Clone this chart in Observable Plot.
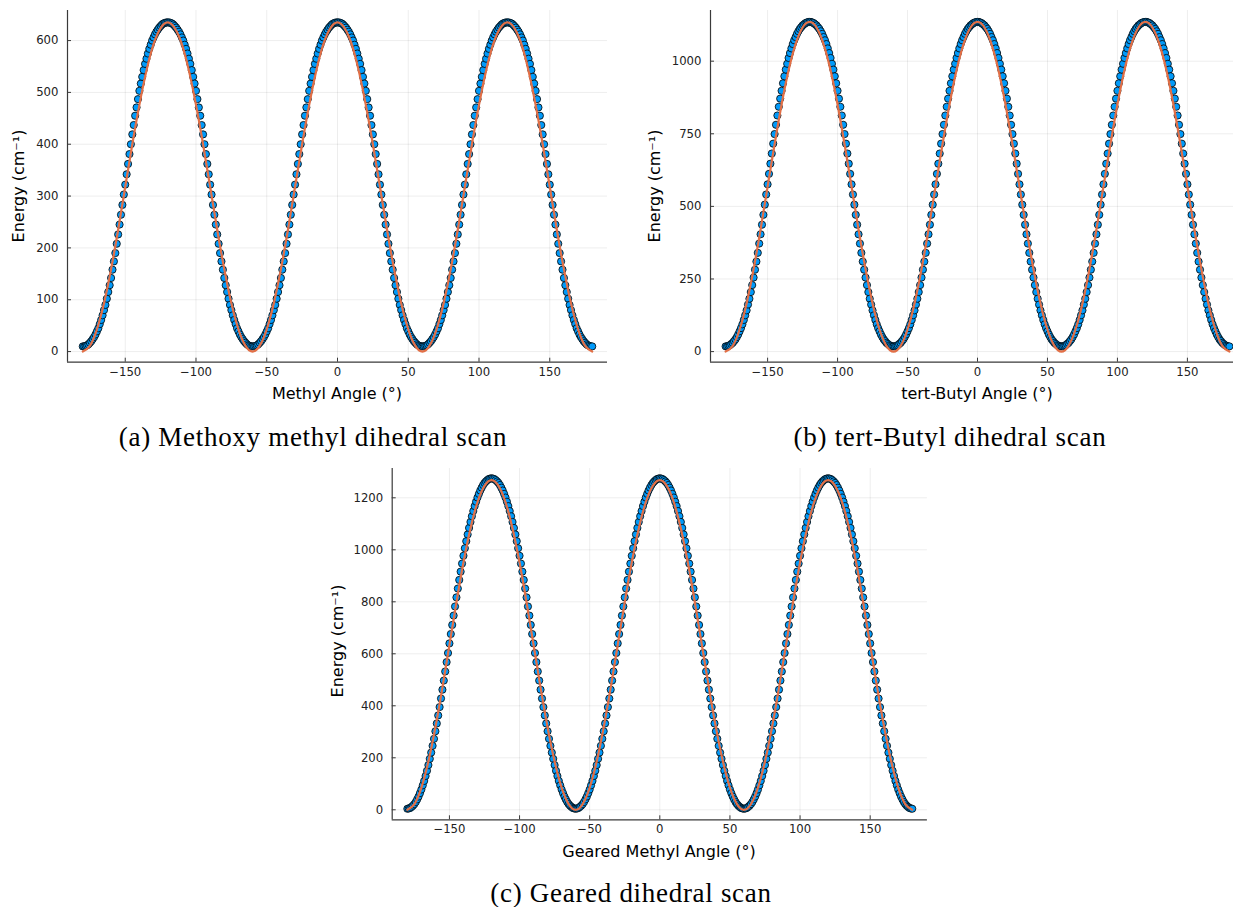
<!DOCTYPE html>
<html><head><meta charset="utf-8">
<script src="https://cdn.jsdelivr.net/npm/d3@7"></script>
<script src="https://cdn.jsdelivr.net/npm/@observablehq/plot@0.6"></script>
<style>
html,body{margin:0;padding:0;background:#fff;}
#fig{position:relative;width:1233px;height:907px;overflow:hidden;background:#fff;}
.panel{position:absolute;}
.lbl{position:absolute;font-family:"DejaVu Sans",sans-serif;font-size:16px;color:#000;white-space:nowrap;transform:translate(-50%,-50%);}
.ylbl{transform:translate(-50%,-50%) rotate(-90deg);}
.cap{position:absolute;font-family:"Liberation Serif",serif;font-size:27px;letter-spacing:0.7px;white-space:nowrap;transform:translate(-50%,-50%);color:#000;}
</style></head><body><div id="fig"></div>
<script>
// ---- Scan angles (degrees), one point per degree ----
const angles = [
-180,-179,-178,-177,-176,-175,-174,-173,-172,-171,
-170,-169,-168,-167,-166,-165,-164,-163,-162,-161,
-160,-159,-158,-157,-156,-155,-154,-153,-152,-151,
-150,-149,-148,-147,-146,-145,-144,-143,-142,-141,
-140,-139,-138,-137,-136,-135,-134,-133,-132,-131,
-130,-129,-128,-127,-126,-125,-124,-123,-122,-121,
-120,-119,-118,-117,-116,-115,-114,-113,-112,-111,
-110,-109,-108,-107,-106,-105,-104,-103,-102,-101,
-100,-99,-98,-97,-96,-95,-94,-93,-92,-91,
-90,-89,-88,-87,-86,-85,-84,-83,-82,-81,
-80,-79,-78,-77,-76,-75,-74,-73,-72,-71,
-70,-69,-68,-67,-66,-65,-64,-63,-62,-61,
-60,-59,-58,-57,-56,-55,-54,-53,-52,-51,
-50,-49,-48,-47,-46,-45,-44,-43,-42,-41,
-40,-39,-38,-37,-36,-35,-34,-33,-32,-31,
-30,-29,-28,-27,-26,-25,-24,-23,-22,-21,
-20,-19,-18,-17,-16,-15,-14,-13,-12,-11,
-10,-9,-8,-7,-6,-5,-4,-3,-2,-1,
0,1,2,3,4,5,6,7,8,9,
10,11,12,13,14,15,16,17,18,19,
20,21,22,23,24,25,26,27,28,29,
30,31,32,33,34,35,36,37,38,39,
40,41,42,43,44,45,46,47,48,49,
50,51,52,53,54,55,56,57,58,59,
60,61,62,63,64,65,66,67,68,69,
70,71,72,73,74,75,76,77,78,79,
80,81,82,83,84,85,86,87,88,89,
90,91,92,93,94,95,96,97,98,99,
100,101,102,103,104,105,106,107,108,109,
110,111,112,113,114,115,116,117,118,119,
120,121,122,123,124,125,126,127,128,129,
130,131,132,133,134,135,136,137,138,139,
140,141,142,143,144,145,146,147,148,149,
150,151,152,153,154,155,156,157,158,159,
160,161,162,163,164,165,166,167,168,169,
170,171,172,173,174,175,176,177,178,179,
180];

// ---- (a) Methoxy methyl scan energies (cm^-1) ----
const energyMethyl = [
10,10,11,12,14,17,20,24,28,33,39,45,53,61,70,80,90,102,115,128,142,158,174,190,208,226,245,264,283,303,322,342,362,381,400,419,437,455,471,487,503,517,530,543,555,565,575,584,592,600,606,612,617,621,625,628,631,633,634,635,635,
635,634,633,631,628,625,621,617,612,606,600,592,584,575,565,555,543,530,517,503,487,471,455,437,419,400,381,362,342,322,303,283,264,245,226,208,190,174,158,142,128,115,102,90,80,70,61,53,45,39,33,28,24,20,17,14,12,11,10,10,
10,11,12,14,17,20,24,28,33,39,45,53,61,70,80,90,102,115,128,142,158,174,190,208,226,245,264,283,303,322,342,362,381,400,419,437,455,471,487,503,517,530,543,555,565,575,584,592,600,606,612,617,621,625,628,631,633,634,635,635,
635,634,633,631,628,625,621,617,612,606,600,592,584,575,565,555,543,530,517,503,487,471,455,437,419,400,381,362,342,322,303,283,264,245,226,208,190,174,158,142,128,115,102,90,80,70,61,53,45,39,33,28,24,20,17,14,12,11,10,10,
10,11,12,14,17,20,24,28,33,39,45,53,61,70,80,90,102,115,128,142,158,174,190,208,226,245,264,283,303,322,342,362,381,400,419,437,455,471,487,503,517,530,543,555,565,575,584,592,600,606,612,617,621,625,628,631,633,634,635,635,
635,634,633,631,628,625,621,617,612,606,600,592,584,575,565,555,543,530,517,503,487,471,455,437,419,400,381,362,342,322,303,283,264,245,226,208,190,174,158,142,128,115,102,90,80,70,61,53,45,39,33,28,24,20,17,14,12,11,10,10];

// ---- (b) tert-Butyl scan energies (cm^-1) ----
const energyTBu = [
18,18,20,22,26,30,36,42,50,59,70,81,94,109,125,142,162,182,205,229,255,282,310,340,372,404,437,471,506,541,576,612,647,682,716,749,781,813,843,871,898,924,948,971,991,1011,1028,1044,1059,1072,1083,1094,1103,1111,1117,1123,1127,1131,1133,1135,1135,
1135,1133,1131,1127,1123,1117,1111,1103,1094,1083,1072,1059,1044,1028,1011,991,971,948,924,898,871,843,813,781,749,716,682,647,612,576,541,506,471,437,404,372,340,310,282,255,229,205,182,162,142,125,109,94,81,70,59,50,42,36,30,26,22,20,18,18,
18,20,22,26,30,36,42,50,59,70,81,94,109,125,142,162,182,205,229,255,282,310,340,372,404,437,471,506,541,576,612,647,682,716,749,781,813,843,871,898,924,948,971,991,1011,1028,1044,1059,1072,1083,1094,1103,1111,1117,1123,1127,1131,1133,1135,1135,
1135,1133,1131,1127,1123,1117,1111,1103,1094,1083,1072,1059,1044,1028,1011,991,971,948,924,898,871,843,813,781,749,716,682,647,612,576,541,506,471,437,404,372,340,310,282,255,229,205,182,162,142,125,109,94,81,70,59,50,42,36,30,26,22,20,18,18,
18,20,22,26,30,36,42,50,59,70,81,94,109,125,142,162,182,205,229,255,282,310,340,372,404,437,471,506,541,576,612,647,682,716,749,781,813,843,871,898,924,948,971,991,1011,1028,1044,1059,1072,1083,1094,1103,1111,1117,1123,1127,1131,1133,1135,1135,
1135,1133,1131,1127,1123,1117,1111,1103,1094,1083,1072,1059,1044,1028,1011,991,971,948,924,898,871,843,813,781,749,716,682,647,612,576,541,506,471,437,404,372,340,310,282,255,229,205,182,162,142,125,109,94,81,70,59,50,42,36,30,26,22,20,18,18];

// ---- (c) Geared methyl scan energies (cm^-1) ----
const energyGeared = [
4,5,7,11,16,22,30,40,51,64,78,94,111,130,150,172,196,220,246,273,302,332,363,395,428,462,497,532,568,603,640,676,711,747,782,817,851,884,916,947,977,1006,1033,1059,1084,1107,1129,1149,1168,1185,1201,1215,1228,1239,1249,1257,1263,1268,1272,1274,1275,
1274,1272,1268,1263,1257,1249,1239,1228,1215,1201,1185,1168,1149,1129,1107,1084,1059,1033,1006,977,947,916,884,851,817,782,747,711,676,640,603,568,532,497,462,428,395,363,332,302,273,246,220,196,172,150,130,111,94,78,64,51,40,30,22,16,11,7,5,4,
5,7,11,16,22,30,40,51,64,78,94,111,130,150,172,196,220,246,273,302,332,363,395,428,462,497,532,568,603,640,676,711,747,782,817,851,884,916,947,977,1006,1033,1059,1084,1107,1129,1149,1168,1185,1201,1215,1228,1239,1249,1257,1263,1268,1272,1274,1275,
1274,1272,1268,1263,1257,1249,1239,1228,1215,1201,1185,1168,1149,1129,1107,1084,1059,1033,1006,977,947,916,884,851,817,782,747,711,676,640,603,568,532,497,462,428,395,363,332,302,273,246,220,196,172,150,130,111,94,78,64,51,40,30,22,16,11,7,5,4,
5,7,11,16,22,30,40,51,64,78,94,111,130,150,172,196,220,246,273,302,332,363,395,428,462,497,532,568,603,640,676,711,747,782,817,851,884,916,947,977,1006,1033,1059,1084,1107,1129,1149,1168,1185,1201,1215,1228,1239,1249,1257,1263,1268,1272,1274,1275,
1274,1272,1268,1263,1257,1249,1239,1228,1215,1201,1185,1168,1149,1129,1107,1084,1059,1033,1006,977,947,916,884,851,817,782,747,711,676,640,603,568,532,497,462,428,395,363,332,302,273,246,220,196,172,150,130,111,94,78,64,51,40,30,22,16,11,7,5,4];

// ---- Fitted curves, sampled every 5 degrees ----
const fitAngles = [-180,-175,-170,-165,-160,-155,-150,-145,-140,-135,-130,-125,-120,-115,-110,-105,-100,-95,-90,-85,-80,-75,-70,-65,-60,-55,-50,-45,-40,-35,-30,-25,-20,-15,-10,-5,0,5,10,15,20,25,30,35,40,45,50,55,60,65,70,75,80,85,90,95,100,105,110,115,120,125,130,135,140,145,150,155,160,165,170,175,180];
const fitMethyl = [0,11,43,93,159,235,318,400,476,542,593,624,635,624,593,542,476,400,318,235,159,93,43,11,0,11,43,93,159,235,318,400,476,542,593,624,635,624,593,542,476,400,318,235,159,93,43,11,0,11,43,93,159,235,318,400,476,542,593,624,635,624,593,542,476,400,318,235,159,93,43,11,0];
const fitTBu = [0,19,76,166,284,421,568,714,851,969,1059,1116,1135,1116,1059,969,851,714,568,421,284,166,76,19,0,19,76,166,284,421,568,714,851,969,1059,1116,1135,1116,1059,969,851,714,568,421,284,166,76,19,0,19,76,166,284,421,568,714,851,969,1059,1116,1135,1116,1059,969,851,714,568,421,284,166,76,19,0];
const fitGeared = [0,22,85,186,317,470,634,798,951,1082,1183,1246,1268,1246,1183,1082,951,798,634,470,317,186,85,22,0,22,85,186,317,470,634,798,951,1082,1183,1246,1268,1246,1183,1082,951,798,634,470,317,186,85,22,0,22,85,186,317,470,634,798,951,1082,1183,1246,1268,1246,1183,1082,951,798,634,470,317,186,85,22,0];

// ---- Ticks and labels ----
const xTicks = [-150,-100,-50,0,50,100,150];
const yTicksMethyl = [0,100,200,300,400,500,600];
const yTicksTBu = [0,250,500,750,1000];
const yTicksGeared = [0,200,400,600,800,1000,1200];
const yTitle = "Energy (cm\u207B\u00B9)";
const xTitles = ["Methyl Angle (°)", "tert-Butyl Angle (°)", "Geared Methyl Angle (°)"];
const captions = ["(a) Methoxy methyl dihedral scan", "(b) tert-Butyl dihedral scan", "(c) Geared dihedral scan"];

const fig = document.getElementById("fig");
const fmtTick = d => d < 0 ? "\u2212" + Math.abs(d) : String(d);
const axisColor = "#3a3a3a";

function makePanel(cfg) {
  const scan = angles.map((a, i) => ({a, e: cfg.energy[i]}));
  const fit = fitAngles.map((a, i) => ({a, e: cfg.fit[i]}));
  const x0 = cfg.xDomain[0], y0 = cfg.yDomain[0];
  const svg = Plot.plot({
    width: cfg.width, height: cfg.height,
    marginLeft: cfg.ml, marginRight: cfg.mr, marginTop: cfg.mt, marginBottom: cfg.mb,
    x: {domain: cfg.xDomain},
    y: {domain: cfg.yDomain},
    style: {fontFamily: "DejaVu Sans, sans-serif", fontSize: "11.7px", color: "#222", background: "transparent", overflow: "visible"},
    marks: [
      Plot.gridX(xTicks, {stroke: "#000", strokeOpacity: 0.09, strokeWidth: 0.8}),
      Plot.gridY(cfg.yTicks, {stroke: "#000", strokeOpacity: 0.09, strokeWidth: 0.8}),
      Plot.dot(scan, {x: "a", y: "e", r: 3.6, fill: "#009AFA", stroke: "#000", strokeWidth: 0.8}),
      Plot.line(fit, {x: "a", y: "e", stroke: "#E26F46", strokeWidth: 2.2, curve: "natural"}),
      Plot.ruleY([y0], {stroke: axisColor, strokeWidth: 1.2}),
      Plot.ruleX([x0], {stroke: axisColor, strokeWidth: 1.2}),
      Plot.axisX(xTicks, {anchor: "bottom", tickSize: -4, tickPadding: 9, label: null, stroke: axisColor, tickFormat: fmtTick}),
      Plot.axisY(cfg.yTicks, {anchor: "left", tickSize: -4, tickPadding: 13, label: null, stroke: axisColor, tickFormat: fmtTick})
    ]
  });
  svg.classList.add("panel");
  svg.style.left = cfg.left + "px";
  svg.style.top = cfg.top + "px";
  fig.appendChild(svg);
}

function addLabel(text, x, y, cls) {
  const d = document.createElement("div");
  d.className = cls;
  d.textContent = text;
  d.style.left = x + "px";
  d.style.top = y + "px";
  fig.appendChild(d);
}

makePanel({left: 0, top: 0, width: 620, height: 380, ml: 67, mr: 13, mt: 10, mb: 18.3,
  xDomain: [-190.8, 190.8], yDomain: [-20.5, 658], yTicks: yTicksMethyl, energy: energyMethyl, fit: fitMethyl});
makePanel({left: 640, top: 0, width: 620, height: 380, ml: 70, mr: 16, mt: 10, mb: 18.3,
  xDomain: [-190.8, 190.8], yDomain: [-36.5, 1174.5], yTicks: yTicksTBu, energy: energyTBu, fit: fitTBu});
makePanel({left: 320, top: 460, width: 620, height: 378, ml: 71.7, mr: 13.1, mt: 8, mb: 18.7,
  xDomain: [-190.8, 190.8], yDomain: [-38.5, 1312.7], yTicks: yTicksGeared, energy: energyGeared, fit: fitGeared});

addLabel(yTitle, 18, 186, "lbl ylbl");
addLabel(yTitle, 654, 186, "lbl ylbl");
addLabel(yTitle, 337, 641, "lbl ylbl");
addLabel(xTitles[0], 337, 393, "lbl");
addLabel(xTitles[1], 977, 393, "lbl");
addLabel(xTitles[2], 659, 851, "lbl");
addLabel(captions[0], 313, 437, "cap");
addLabel(captions[1], 950, 437, "cap");
addLabel(captions[2], 631, 893, "cap");
</script></body></html>
